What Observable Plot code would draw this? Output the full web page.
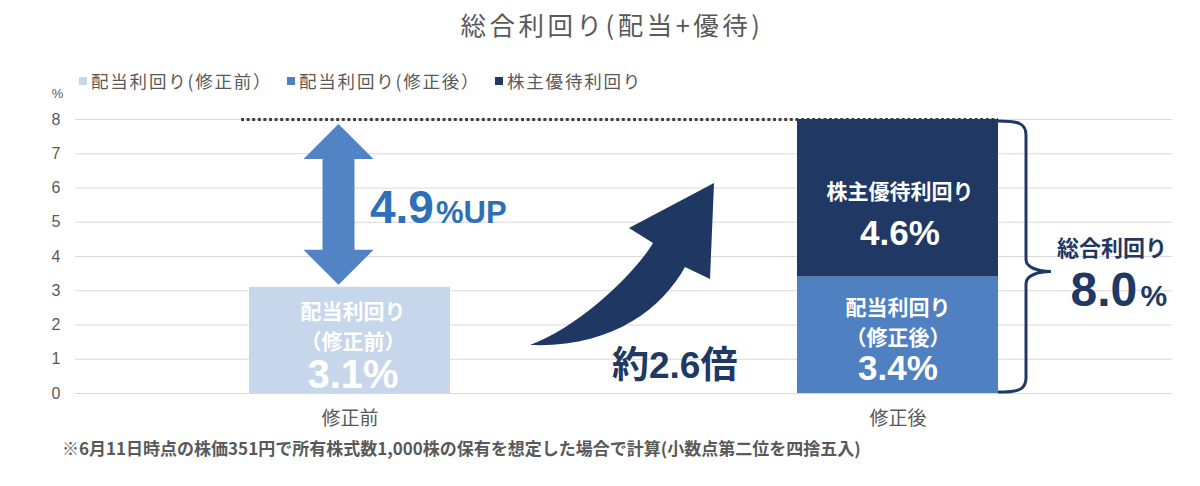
<!DOCTYPE html>
<html>
<head>
<meta charset="utf-8">
<script src="https://cdn.jsdelivr.net/npm/d3@7"></script>
<script src="https://cdn.jsdelivr.net/npm/@observablehq/plot@0.6"></script>
<style>
  html, body { margin: 0; padding: 0; background: #ffffff; }
  #wrap { position: relative; width: 1200px; height: 486px; overflow: hidden; font-family: "Noto Sans CJK JP", sans-serif; }
  #title { position: absolute; left: 12px; top: 0; width: 1200px; height: 48px; line-height: 48px; text-align: center; font-size: 25.5px; letter-spacing: 3.5px; color: #595959; }
  #chart { position: absolute; left: 0; top: 84px; }
  #legend { position: absolute; left: 0; top: 70px; height: 22px; width: 1200px; z-index: 2; }
  .item { position: absolute; top: 0; height: 22px; line-height: 22px; font-size: 17.5px; letter-spacing: 1.8px; color: #595959; white-space: nowrap; }
  .sw { position: absolute; top: 7px; width: 8px; height: 8px; }
  #note { position: absolute; left: 62px; top: 436px; height: 24px; line-height: 24px; font-size: 17px; font-weight: bold; color: #595959; white-space: nowrap; }
</style>
</head>
<body>
<div id="wrap">
  <div id="title">総合利回り(配当+優待)</div>
  <div id="chart"></div>
  <div id="legend"></div>
  <div id="note">※6月11日時点の株価351円で所有株式数1,000株の保有を想定した場合で計算(小数点第二位を四捨五入)</div>
</div>
<script>
// ---- data ----
const categories = ["修正前", "修正後"];
const seriesNames = ["配当利回り(修正前)", "配当利回り(修正後)", "株主優待利回り"];
const seriesCategory = ["修正前", "修正後", "修正後"];
const seriesValues = [3.1, 3.4, 4.6];
const segmentLabels = ["配当利回り\n（修正前）", "配当利回り\n（修正後）", "株主優待利回り"];
const yTicks = [0, 1, 2, 3, 4, 5, 6, 7, 8];
const unitLabel = "%";
const totalLabel = "総合利回り";

// ---- styles ----
const colors = ["#c6d6eb", "#4f80c2", "#203864"];
const navy = "#1f3864";
const gray = "#595959";
const numFont = "Liberation Sans, Arial, Noto Sans CJK JP, sans-serif";
const cjkFont = "Noto Sans CJK JP, sans-serif";

// ---- derived table ----
const rows = seriesNames.map((s, i) => ({
  series: s, cat: seriesCategory[i], value: seriesValues[i], label: segmentLabels[i]
}));
const acc = {};
rows.forEach(r => {
  r.y0 = acc[r.cat] ?? 0;
  r.y1 = r.y0 + r.value;
  r.mid = (r.y0 + r.y1) / 2;
  acc[r.cat] = r.y1;
});
const before = d3.sum(rows.filter(r => r.cat === categories[0]), d => d.value);
const total = d3.sum(rows.filter(r => r.cat === categories[1]), d => d.value);
const up = total - before;
const ratio = total / before;

// per-segment label placement (pixels)
const nameDy = [9, 10, 1];
const valueDy = [48, 45, 47];
const valueSize = [40, 35, 35];
const labelDx = [3, 0, 2];

function segmentMarks() {
  const m = [];
  rows.forEach((r, i) => {
    m.push(Plot.text([r], {
      x: "cat", y: "mid", text: "label", dx: labelDx[i], dy: nameDy[i],
      lineAnchor: "bottom", lineHeight: 1.43, fontSize: 21, fontWeight: "bold",
      fontFamily: cjkFont, fill: "#ffffff", textAnchor: "middle"
    }));
    m.push(Plot.text([r], {
      x: "cat", y: "mid", text: d => d.value.toFixed(1) + "%", dx: labelDx[i], dy: valueDy[i],
      lineAnchor: "bottom", fontSize: valueSize[i], fontWeight: "bold",
      fontFamily: numFont, fill: "#ffffff", textAnchor: "middle"
    }));
  });
  return m;
}

function decorations(index, scales) {
  const x = scales.x, y = scales.y;
  const bw = typeof x.bandwidth === "function" ? x.bandwidth() : x.bandwidth;
  const g = d3.create("svg:g");

  // double arrow between 修正前 value and total
  const cx = x(categories[0]) + bw / 2 - 11;
  const yT = y(total) + 5, yB = y(before) - 2;
  const hw = 35, hl = 35, sw = 16;
  g.append("path")
    .attr("d", `M${cx},${yT} L${cx + hw},${yT + hl} L${cx + sw},${yT + hl} L${cx + sw},${yB - hl} L${cx + hw},${yB - hl} L${cx},${yB} L${cx - hw},${yB - hl} L${cx - sw},${yB - hl} L${cx - sw},${yT + hl} L${cx - hw},${yT + hl} Z`)
    .attr("fill", "#5283c4");

  // curved arrow
  const ox = x(categories[1]), oy = y(0);
  const P = (dx, dy) => `${ox + dx},${oy + dy}`;
  g.append("path")
    .attr("d",
      `M${P(-267, -48)} C${P(-216, -67)} ${P(-161, -121)} ${P(-144, -150)} ` +
      `L${P(-168, -165)} L${P(-83, -210)} L${P(-87, -114)} L${P(-112, -126)} ` +
      `C${P(-136, -83)} ${P(-186, -45)} ${P(-267, -48)} Z`)
    .attr("fill", "#1f3763");

  // brace
  const xR = x(categories[1]) + bw;
  const bT = y(total) + 2, bB = y(0) - 1;
  const tip = (bT + bB) / 2 + 15;
  g.append("path")
    .attr("d",
      `M${xR},${bT} C${xR + 20},${bT} ${xR + 28},${bT + 2} ${xR + 28},${bT + 14} ` +
      `L${xR + 28},${tip - 12} C${xR + 28},${tip - 4} ${xR + 40},${tip} ${xR + 53},${tip} ` +
      `C${xR + 40},${tip} ${xR + 28},${tip + 4} ${xR + 28},${tip + 12} ` +
      `L${xR + 28},${bB - 14} C${xR + 28},${bB - 2} ${xR + 20},${bB} ${xR},${bB}`)
    .attr("fill", "none").attr("stroke", navy).attr("stroke-width", 3);
  return g.node();
}

const chart = Plot.plot({
  width: 1200,
  height: 348,
  marginTop: 35,
  marginBottom: 39,
  marginLeft: 75,
  marginRight: 28,
  style: { background: "transparent", color: gray, fontFamily: numFont, overflow: "visible" },
  x: { domain: categories, paddingInner: 0.6335, paddingOuter: 0.3168, label: null },
  y: { domain: [0, 8], label: null },
  color: { domain: seriesNames, range: colors },
  marks: [
    Plot.ruleY(yTicks, { stroke: "#d9d9d9", strokeWidth: 1 }),
    Plot.ruleY([total], {
      x1: () => categories[0], x2: () => categories[1], insetLeft: -8,
      stroke: "#404040", strokeWidth: 3, strokeDasharray: "3 2.6"
    }),
    Plot.barY(rows, { x: "cat", y1: "y0", y2: "y1", fill: "series" }),
    ...segmentMarks(),
    decorations,
    // 4.9%UP
    Plot.text([up], {
      x: () => categories[0], y: () => (before + total) / 2, text: d => d.toFixed(1),
      dx: 20, dy: 20, textAnchor: "start", lineAnchor: "bottom",
      fontSize: 46, fontWeight: "bold", fontFamily: numFont, fill: "#2e70b8"
    }),
    Plot.text(["%UP"], {
      x: () => categories[0], y: () => (before + total) / 2, text: d => d,
      dx: 86, dy: 20, textAnchor: "start", lineAnchor: "bottom",
      fontSize: 31, fontWeight: "bold", fontFamily: numFont, fill: "#2e70b8"
    }),
    // 約2.6倍
    Plot.text([ratio], {
      x: () => categories[1], y: () => 0, text: d => "約" + d.toFixed(1) + "倍",
      dx: -286, dy: -16, textAnchor: "start", lineAnchor: "bottom",
      fontSize: 37, fontWeight: "bold", fontFamily: numFont, fill: navy
    }),
    // 総合利回り 8.0%
    Plot.text([totalLabel], {
      x: () => categories[1], y: () => total / 2, text: d => d,
      dx: 214, dy: -1, textAnchor: "middle", lineAnchor: "bottom",
      fontSize: 22, fontWeight: "bold", fontFamily: cjkFont, fill: navy
    }),
    Plot.text([total], {
      x: () => categories[1], y: () => total / 2, text: d => d.toFixed(1),
      dx: 172.5, dy: 49, textAnchor: "start", lineAnchor: "bottom",
      fontSize: 48, fontWeight: "bold", fontFamily: numFont, fill: navy
    }),
    Plot.text(["%"], {
      x: () => categories[1], y: () => total / 2, text: d => d,
      dx: 242.5, dy: 49, textAnchor: "start", lineAnchor: "bottom",
      fontSize: 30, fontWeight: "bold", fontFamily: numFont, fill: navy
    }),
    // unit label
    Plot.text([unitLabel], {
      frameAnchor: "top-left", text: d => d, dx: -18, dy: -22,
      lineAnchor: "bottom", textAnchor: "middle", fontSize: 13, fill: gray, fontFamily: numFont
    }),
    Plot.axisY(yTicks, { tickSize: 0, tickPadding: 15, fontSize: 16, fill: gray, label: null, fontFamily: numFont }),
    Plot.axisX({ tickSize: 0, tickPadding: 18, fontSize: 19, fill: gray, label: null, fontFamily: cjkFont })
  ]
});
document.getElementById("chart").appendChild(chart);

// legend
const legendX = [79, 287, 495];
const legend = document.getElementById("legend");
seriesNames.forEach((s, i) => {
  const sw = document.createElement("div");
  sw.className = "sw";
  sw.style.left = legendX[i] + "px";
  sw.style.background = colors[i];
  legend.appendChild(sw);
  const t = document.createElement("div");
  t.className = "item";
  t.style.left = (legendX[i] + 12) + "px";
  t.textContent = s.replace(")", "）");
  legend.appendChild(t);
});
</script>
</body>
</html>
